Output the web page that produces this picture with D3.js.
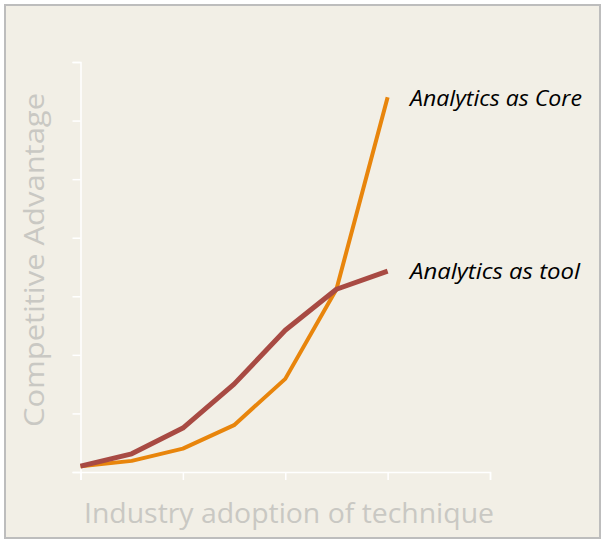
<!DOCTYPE html>
<html><head><meta charset="utf-8">
<script src="https://cdn.jsdelivr.net/npm/d3@7"></script>
<style>html,body{margin:0;padding:0;background:#fff;}</style>
</head><body>
<svg id="c" width="607" height="544"></svg>
<script>
const xSteps = [0, 1, 2, 3, 4, 5, 6];
const toolValues = [0.10, 0.31, 0.75, 1.50, 2.42, 3.12, 3.43];
const coreValues = [0.10, 0.19, 0.40, 0.80, 1.59, 3.12, 6.40];
const seriesNames = ["Analytics as tool", "Analytics as Core"];
const yTicks = [0, 1, 2, 3, 4, 5, 6, 7];
const xTicks = [0, 2, 4, 6, 8];
const xTitle = "Industry adoption of technique";
const yTitle = "Competitive Advantage";

const svg = d3.select("#c");
svg.append("rect").attr("x", 5).attr("y", 5).attr("width", 595).attr("height", 533)
  .attr("fill", "#f2efe6").attr("stroke", "#bdbdbd").attr("stroke-width", 2);

const x = d3.scaleLinear().domain([0, 8]).range([80.5, 490]);
const y = d3.scaleLinear().domain([0, 7]).range([472, 62]);

const yAxis = svg.append("g").attr("transform", "translate(80.5,0)")
  .call(d3.axisLeft(y).tickValues(yTicks).tickSize(8).tickFormat(""));
const xAxis = svg.append("g").attr("transform", "translate(0,472)")
  .call(d3.axisBottom(x).tickValues(xTicks).tickSize(8).tickFormat(""));
[yAxis, xAxis].forEach(g => {
  g.selectAll("path.domain").attr("stroke", "#ffffff").attr("stroke-width", 1.5);
  g.selectAll(".tick line").attr("stroke", "#ffffff").attr("stroke-width", 1.5);
});

const line = d3.line().x((d, i) => x(xSteps[i])).y(d => y(d));
svg.append("path").datum(coreValues).attr("d", line).attr("fill", "none")
  .attr("stroke", "#e8850c").attr("stroke-width", 4).attr("stroke-linejoin", "round");
svg.append("path").datum(toolValues).attr("d", line).attr("fill", "none")
  .attr("stroke", "#a84a43").attr("stroke-width", 5).attr("stroke-linejoin", "round");

const labelFont = "'Open Sans', 'Liberation Sans', sans-serif";
svg.append("text").attr("x", 410).attr("y", 106).text(seriesNames[1])
  .attr("font-family", labelFont).attr("font-style", "italic").attr("font-size", 21)
  .attr("textLength", 172).attr("lengthAdjust", "spacingAndGlyphs").attr("fill", "#000");
svg.append("text").attr("x", 410).attr("y", 279).text(seriesNames[0])
  .attr("font-family", labelFont).attr("font-style", "italic").attr("font-size", 21)
  .attr("textLength", 170).attr("lengthAdjust", "spacingAndGlyphs").attr("fill", "#000");

svg.append("text").attr("x", 289).attr("y", 523).attr("text-anchor", "middle").text(xTitle)
  .attr("font-family", labelFont).attr("font-size", 28)
  .attr("textLength", 410).attr("lengthAdjust", "spacingAndGlyphs").attr("fill", "#c9c8c3");
svg.append("text").attr("transform", "translate(44,260) rotate(-90)").attr("text-anchor", "middle").text(yTitle)
  .attr("font-family", labelFont).attr("font-size", 28)
  .attr("textLength", 334).attr("lengthAdjust", "spacingAndGlyphs").attr("fill", "#c9c8c3");
</script>
</body></html>
